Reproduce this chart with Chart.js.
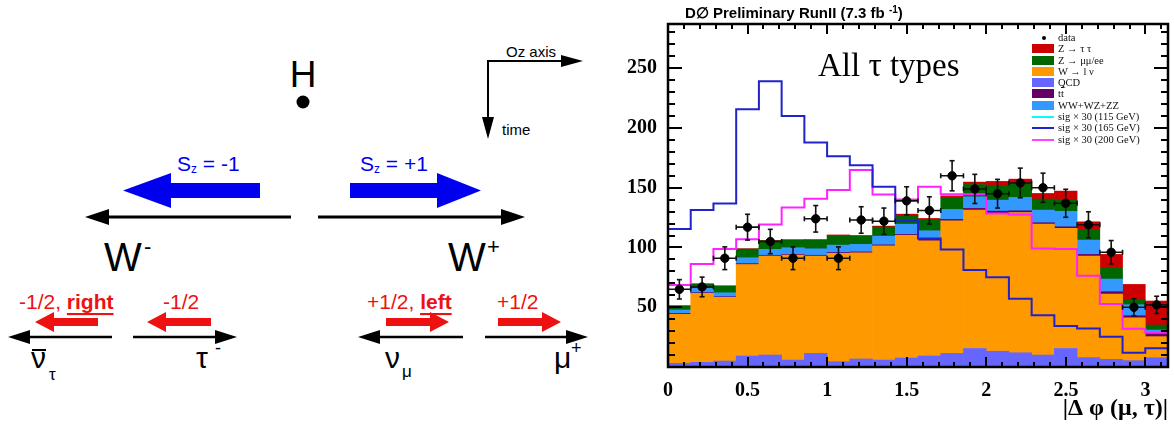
<!DOCTYPE html>
<html lang="en">
<head>
<meta charset="UTF-8">
<title>H to WW helicity sketch and |&Delta;&phi;(&mu;,&tau;)|</title>
<script src="https://cdn.jsdelivr.net/npm/chart.js"></script>
<style>
    body {
        margin: 0;
        width: 1174px;
        height: 426px;
        position: relative;
        overflow: hidden;
        background: #fff;
        font-family: "Liberation Sans", Arial, sans-serif;
    }
    #diagram { position: absolute; left: 0; top: 0; }
    #plot { position: absolute; left: 620px; top: 0; }
    .title {
        position: absolute; left: 685px; top: 5px;
        font: bold 15px/15px "Liberation Sans", Arial, sans-serif;
        white-space: nowrap;
    }
    .title sup { font-size: 10px; vertical-align: 5px; line-height: 0; }
    .tag {
        position: absolute; left: 818px; top: 49px;
        font: 33px/33px "Liberation Serif", "Times New Roman", serif;
        white-space: nowrap;
    }
    .legend {
        position: absolute; left: 1032px; top: 32px;
        font: 10.5px "Liberation Serif", "Times New Roman", serif;
        color: #111;
    }
    .legend div {
        position: relative; height: 11.3px; line-height: 11.3px;
        padding-left: 26px; white-space: nowrap;
    }
    .legend .box { position: absolute; left: 0; top: 1px; width: 22px; height: 9px; }
    .legend .ln { position: absolute; left: 0; top: 5px; width: 22px; height: 2px; }
    .legend .dot { position: absolute; left: 10px; top: 4px; width: 4px; height: 4px; border-radius: 50%; background: #000; }
    .ovl { text-decoration: overline; }
</style>
</head>
<body>

<svg id="diagram" width="620" height="426" font-family="Liberation Sans, Arial, sans-serif">
    <!-- Higgs -->
    <text x="303" y="74" font-size="37" text-anchor="middle" dominant-baseline="central">H</text>
    <circle cx="303" cy="102" r="6.5" fill="#000"/>

    <!-- axes hint -->
    <g stroke="#000" stroke-width="2" fill="none">
        <line x1="488" y1="61" x2="565" y2="61"/>
        <line x1="488" y1="60" x2="488" y2="120"/>
    </g>
    <polygon points="583,61 561,55 561,67" fill="#000"/>
    <polygon points="488,139 482,117 494,117" fill="#000"/>
    <text x="506" y="51" font-size="15" dominant-baseline="central">Oz axis</text>
    <text x="502" y="129" font-size="15" dominant-baseline="central">time</text>

    <!-- W spins -->
    <text x="177" y="163" font-size="21" fill="#0000ee" dominant-baseline="central">S<tspan font-size="12" dy="6">z</tspan><tspan dy="-6"> = -1</tspan></text>
    <text x="360" y="163" font-size="21" fill="#0000ee" dominant-baseline="central">S<tspan font-size="12" dy="6">z</tspan><tspan dy="-6"> = +1</tspan></text>
    <polygon points="123,190.5 171,173 171,183 260,183 260,198 171,198 171,208" fill="#0000ee"/>
    <polygon points="481,190.5 437,173 437,183 350,183 350,198 437,198 437,208" fill="#0000ee"/>

    <!-- W momenta -->
    <g stroke="#000" stroke-width="3">
        <line x1="291" y1="217" x2="105" y2="217"/>
        <line x1="318" y1="217" x2="505" y2="217"/>
    </g>
    <polygon points="85,217 109,209 109,225" fill="#000"/>
    <polygon points="525,217 501,209 501,225" fill="#000"/>
    <text x="104" y="257" font-size="40" dominant-baseline="central">W</text>
    <text x="144" y="246" font-size="22" dominant-baseline="central">-</text>
    <text x="448" y="257" font-size="40" dominant-baseline="central">W</text>
    <text x="487" y="246" font-size="22" dominant-baseline="central">+</text>

    <!-- lepton spins -->
    <g font-size="21" fill="#ee1111" dominant-baseline="central">
        <text x="19" y="301">-1/2, <tspan font-weight="bold" text-decoration="underline">right</tspan></text>
        <text x="163" y="301">-1/2</text>
        <text x="367" y="301">+1/2, <tspan font-weight="bold" text-decoration="underline">left</tspan></text>
        <text x="497" y="301">+1/2</text>
    </g>
    <g fill="#ee1111">
        <polygon points="35,322 54,312 54,318 98,318 98,326 54,326 54,332"/>
        <polygon points="147,322 166,312 166,318 211,318 211,326 166,326 166,332"/>
        <polygon points="449,322 430,312 430,318 386,318 386,326 430,326 430,332"/>
        <polygon points="561,322 542,312 542,318 498,318 498,326 542,326 542,332"/>
    </g>

    <!-- lepton momenta -->
    <g stroke="#000" stroke-width="2.5">
        <line x1="112" y1="337" x2="26" y2="337"/>
        <line x1="133" y1="337" x2="219" y2="337"/>
        <line x1="463" y1="337" x2="376" y2="337"/>
        <line x1="485" y1="337" x2="570" y2="337"/>
    </g>
    <g fill="#000">
        <polygon points="8,337 30,330 30,344"/>
        <polygon points="237,337 215,330 215,344"/>
        <polygon points="358,337 380,330 380,344"/>
        <polygon points="588,337 566,330 566,344"/>
    </g>
    <text x="31" y="368" font-size="30">&#957;</text>
    <line x1="32" y1="350" x2="46" y2="350" stroke="#000" stroke-width="2"/>
    <text x="49" y="380" font-size="17">&#964;</text>
    <text x="196" y="368" font-size="30">&#964;</text>
    <text x="215" y="354" font-size="18">-</text>
    <text x="385" y="368" font-size="30">&#957;</text>
    <text x="402" y="377" font-size="17">&#956;</text>
    <text x="554" y="368" font-size="30">&#956;</text>
    <text x="571" y="354" font-size="18">+</text>
</svg>

<canvas id="plot" width="554" height="426"></canvas>

<div class="title">D&#8709; Preliminary RunII (7.3 fb <sup>-1</sup>)</div>
<div class="tag">All &#964; types</div>
<div class="legend">
    <div><span class="dot"></span>data</div>
    <div><span class="box" style="background:#cc0000"></span>Z &#8594; &#964; &#964;</div>
    <div><span class="box" style="background:#006600"></span>Z &#8594; &#956;&#956;/ee</div>
    <div><span class="box" style="background:#ff9900"></span>W &#8594; l &#957;</div>
    <div><span class="box" style="background:#6666ff"></span>QCD</div>
    <div><span class="box" style="background:#660066"></span>t<span class="ovl">t</span></div>
    <div><span class="box" style="background:#3399ff"></span>WW+WZ+ZZ</div>
    <div><span class="ln" style="background:#00ffff"></span>sig &#215; 30 (115 GeV)</div>
    <div><span class="ln" style="background:#2222cc"></span>sig &#215; 30 (165 GeV)</div>
    <div><span class="ln" style="background:#ff44ff"></span>sig &#215; 30 (200 GeV)</div>
</div>

<script>
    // 22 bins in |dphi(mu,tau)| from 0 to pi
    const phiMax = Math.PI;
    const dataCounts = [65, 67, 91, 117, 105, 91, 124, 91, 123, 122, 139, 131, 160, 149, 145, 154, 150, 137, 119, 96, 50, 52];
    const dataErrors = [8.1, 8.2, 9.5, 10.8, 10.2, 9.5, 11.1, 9.5, 11.1, 11.0, 11.8, 11.4, 12.6, 12.2, 12.0, 12.4, 12.2, 11.7, 10.9, 9.8, 7.1, 7.2];

    // backgrounds, bottom of the stack first
    const qcd = [3.1, 3.9, 5.0, 9.2, 10.0, 5.8, 11.4, 4.5, 6.7, 5.8, 7.5, 9.2, 11.4, 15.5, 13.2, 11.9, 10.0, 15.5, 7.9, 6.4, 5.3, 7.8];
    const wLnu = [40.9, 57.7, 53.3, 76.6, 82.8, 87.8, 81.4, 90.6, 88.9, 95.6, 102.6, 96.4, 110.9, 115.8, 115.3, 117.4, 109.6, 100.5, 84.9, 54.6, 35.9, 17.6];
    const ttbar = [0.8, 0.6, 0.5, 0.7, 0.7, 0.6, 0.7, 0.7, 0.7, 0.8, 0.8, 1.2, 1.2, 1.4, 1.9, 1.4, 1.1, 1.3, 1.4, 2.0, 1.7, 2.7];
    const diboson = [2.9, 3.6, 3.3, 4.9, 4.9, 5.6, 5.4, 6.2, 6.3, 7.3, 8.6, 7.2, 8.3, 9.7, 9.2, 11.2, 10.6, 13.0, 12.0, 10.6, 9.2, 2.8];
    const zLL = [3.3, 3.6, 5.6, 7.3, 7.2, 6.4, 7.3, 8.1, 6.9, 7.6, 7.0, 8.9, 10.1, 10.3, 12.0, 11.7, 9.2, 9.3, 8.9, 9.6, 3.9, 4.2];
    const zTauTau = [0.3, 0.2, 0.2, 0.3, 0.3, 0.3, 0.4, 0.4, 0.5, 0.8, 1.4, 1.4, 1.3, 2.0, 3.7, 3.6, 4.7, 7.6, 6.4, 11.0, 13.1, 20.1];

    // signal x 30
    const sig165 = [115.5, 131.3, 136.8, 215.7, 239.1, 210.1, 187.8, 176.4, 168.9, 150.8, 122.2, 107.6, 98.4, 81.1, 75.0, 57.1, 43.2, 34.3, 32.3, 25.4, 12.0, 15.6];
    const sig200 = [68.6, 86.1, 98.7, 106.8, 119.3, 133.5, 140.7, 148.0, 164.8, 144.4, 140.1, 150.8, 144.6, 144.6, 128.4, 127.7, 99.2, 98.7, 76.3, 52.7, 32.0, 28.7];

    const xTicks = [0, 0.5, 1, 1.5, 2, 2.5, 3];
    const yTicks = [50, 100, 150, 200, 250];
    const yMax = 287;

    const nBins = dataCounts.length;
    const binWidth = phiMax / nBins;
    const centers = dataCounts.map((_, i) => (i + 0.5) * binWidth);

    const asBars = vals => vals.map((v, i) => ({ x: centers[i], y: v }));
    // histogram outline: one point per bin edge, last bin repeated at the upper edge
    const asSteps = vals => vals.concat([vals[nBins - 1]]).map((v, i) => ({ x: i * binWidth, y: v }));

    const vErr = [];
    const hErr = [];
    dataCounts.forEach((d, i) => {
        const c = centers[i];
        vErr.push({ x: c, y: d - dataErrors[i] }, { x: c, y: d + dataErrors[i] }, { x: c, y: null });
        hErr.push({ x: c - binWidth / 2, y: d }, { x: c + binWidth / 2, y: d }, { x: c, y: null });
    });

    const serif = '"Liberation Serif", "Times New Roman", serif';

    function barSet(label, vals, color) {
        return {
            type: 'bar', label, data: asBars(vals), backgroundColor: color,
            borderWidth: 0, stack: 'bkg', order: 3,
            barPercentage: 1, categoryPercentage: 1
        };
    }

    function stepSet(label, vals, color) {
        return {
            type: 'line', label, data: asSteps(vals), borderColor: color,
            borderWidth: 2, stepped: 'before', pointRadius: 0, fill: false,
            stack: label, order: 2
        };
    }

    // ROOT-like frame with ticks on all four sides, pointing inwards
    const frameTicks = {
        id: 'frameTicks',
        afterDatasetsDraw(chart) {
            const { ctx, chartArea: a, scales: { x, y } } = chart;
            ctx.save();
            ctx.strokeStyle = '#000';
            ctx.lineWidth = 2;
            ctx.beginPath();
            for (let i = 0; i * 0.1 <= x.max; i++) {
                const px = Math.round(x.getPixelForValue(i * 0.1));
                const len = i % 5 === 0 ? 10 : 5;
                ctx.moveTo(px, a.bottom); ctx.lineTo(px, a.bottom - len);
                ctx.moveTo(px, a.top); ctx.lineTo(px, a.top + len);
            }
            for (let v = 0; v <= y.max; v += 10) {
                const py = Math.round(y.getPixelForValue(v));
                const len = v % 50 === 0 ? 14 : 7;
                ctx.moveTo(a.left, py); ctx.lineTo(a.left + len, py);
                ctx.moveTo(a.right, py); ctx.lineTo(a.right - len, py);
            }
            ctx.stroke();
            ctx.lineWidth = 2.5;
            ctx.strokeRect(a.left, a.top, a.right - a.left, a.bottom - a.top);
            ctx.restore();
        }
    };

    new Chart(document.getElementById('plot'), {
        type: 'bar',
        data: {
            datasets: [
                {
                    type: 'line', label: 'data', data: dataCounts.map((d, i) => ({ x: centers[i], y: d })),
                    showLine: false, pointRadius: 4.2, pointBackgroundColor: '#000', pointBorderColor: '#000',
                    stack: 'data', order: 0
                },
                {
                    type: 'line', label: 'err-y', data: vErr, borderColor: '#111', borderWidth: 1.6,
                    spanGaps: false, pointStyle: 'line', pointRadius: 2.5, pointBorderWidth: 1.6,
                    pointBorderColor: '#111', stack: 'ey', order: 1
                },
                {
                    type: 'line', label: 'err-x', data: hErr, borderColor: '#111', borderWidth: 1.6,
                    spanGaps: false, pointStyle: 'line', pointRotation: 90, pointRadius: 2.5, pointBorderWidth: 1.6,
                    pointBorderColor: '#111', stack: 'ex', order: 1
                },
                stepSet('sig x 30 (165 GeV)', sig165, '#2222cc'),
                stepSet('sig x 30 (200 GeV)', sig200, '#ff22ff'),
                barSet('QCD', qcd, '#6666ff'),
                barSet('W -> l nu', wLnu, '#ff9900'),
                barSet('ttbar', ttbar, '#660066'),
                barSet('WW+WZ+ZZ', diboson, '#3399ff'),
                barSet('Z -> mumu/ee', zLL, '#006600'),
                barSet('Z -> tautau', zTauTau, '#cc0000')
            ]
        },
        options: {
            responsive: false,
            devicePixelRatio: 1,
            animation: false,
            events: [],
            layout: { padding: { left: 0, top: 24, right: 6, bottom: 0 } },
            plugins: { legend: { display: false }, tooltip: { enabled: false } },
            scales: {
                x: {
                    type: 'linear', min: 0, max: phiMax, offset: false,
                    grid: { display: false }, border: { display: false },
                    afterBuildTicks: s => { s.ticks = xTicks.map(v => ({ value: v })); },
                    afterFit: s => { s.height = 59; },
                    ticks: {
                        color: '#000', padding: 4, maxRotation: 0, autoSkip: false,
                        callback: v => String(v),
                        font: { family: serif, size: 20, weight: 'bold' }
                    },
                    title: {
                        display: true, text: '|\u0394 \u03c6 (\u03bc, \u03c4)|', align: 'end', color: '#000',
                        padding: { top: 0, bottom: 3 },
                        font: { family: serif, size: 24, weight: 'bold' }
                    }
                },
                y: {
                    min: 0, max: yMax,
                    grid: { display: false }, border: { display: false },
                    afterBuildTicks: s => { s.ticks = yTicks.map(v => ({ value: v })); },
                    afterFit: s => { s.width = 48; },
                    ticks: {
                        color: '#000', padding: 3,
                        callback: v => String(v),
                        font: { family: serif, size: 20, weight: 'bold' }
                    }
                }
            }
        },
        plugins: [frameTicks]
    });
</script>
</body>
</html>
